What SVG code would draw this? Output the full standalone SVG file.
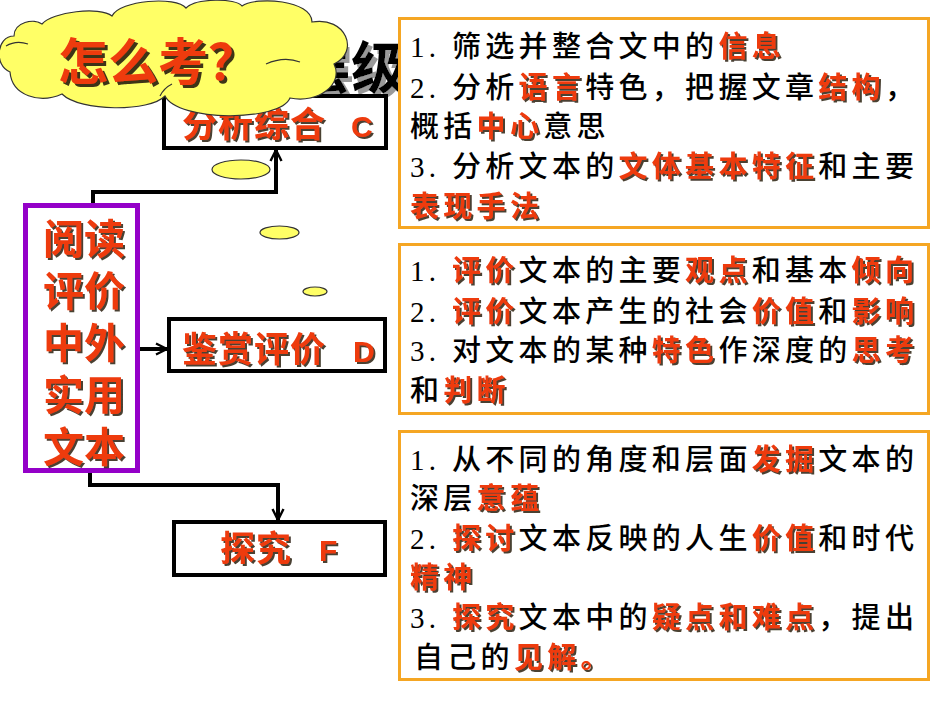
<svg xmlns="http://www.w3.org/2000/svg" width="950" height="713" viewBox="0 0 950 713">
<defs>
<style>
.t{font-family:"Noto Sans CJK SC",sans-serif;font-size:29px;font-weight:500;fill:#000;letter-spacing:4.3px}
.r{font-family:"Noto Sans CJK SC",sans-serif;font-size:29px;font-weight:700;fill:#EE3A10;letter-spacing:4.3px}
.n{font-family:"Liberation Serif",serif;font-weight:400}
.box{fill:#fff;stroke:#000;stroke-width:4}
.panel{fill:#fff;stroke:#F5A623;stroke-width:3}
.lbl{font-family:"Noto Sans CJK SC",sans-serif;font-size:35px;font-weight:700;fill:#EE3A10;letter-spacing:1px}
.lat{font-family:"Liberation Sans",sans-serif;font-size:30px}
.bub{fill:#FFFF66;stroke:#333;stroke-width:1.2}
.conn{fill:none;stroke:#000;stroke-width:4}
</style>
<filter id="sh" x="-5%" y="-20%" width="115%" height="150%"><feDropShadow dx="2" dy="2" stdDeviation="0.5" flood-color="#2a1a10" flood-opacity="0.85"/></filter>
<filter id="sh3" x="-5%" y="-20%" width="115%" height="150%"><feDropShadow dx="3" dy="3" stdDeviation="0.6" flood-color="#2a1a10" flood-opacity="0.9"/></filter>
<filter id="gsh" x="-5%" y="-20%" width="115%" height="150%"><feDropShadow dx="4" dy="4" stdDeviation="0.5" flood-color="#999" flood-opacity="1"/></filter>
<marker id="ah" markerUnits="userSpaceOnUse" markerWidth="14" markerHeight="14" viewBox="0 0 14 14" refX="12" refY="7" orient="auto"><path d="M1,1.5 L12,7 L1,12.5" fill="none" stroke="#000" stroke-width="2.4"/></marker>
</defs>
<rect width="950" height="713" fill="#fff"/>

<g id="title">
<text x="183" y="88" filter="url(#gsh)" style="font-family:'Noto Sans CJK SC',sans-serif;font-size:56px;font-weight:700;fill:#000">能力层级</text>
</g>

<g id="connectors">
<path class="conn" d="M93,205 V192 H276 V150" marker-end="url(#ah)"/>
<path class="conn" d="M140,349 H167" marker-end="url(#ah)"/>
<path class="conn" d="M90,471 V485 H278 V520" marker-end="url(#ah)"/>
</g>

<g id="nodeC">
<rect class="box" x="164" y="96" width="222" height="52"/>
<text class="lbl" y="137" filter="url(#sh)"><tspan x="182">分析综合</tspan><tspan class="lat" x="351">C</tspan></text>
</g>
<g id="nodeD">
<rect class="box" x="169" y="319" width="216" height="52"/>
<text class="lbl" y="362" filter="url(#sh)"><tspan x="182">鉴赏评价</tspan><tspan class="lat" x="353">D</tspan></text>
</g>
<g id="nodeF">
<rect class="box" x="174" y="522" width="211" height="53"/>
<text class="lbl" y="561" filter="url(#sh)"><tspan x="220">探究</tspan><tspan class="lat" x="319">F</tspan></text>
</g>
<g id="nodeMain">
<rect x="25.5" y="205.5" width="112" height="265" fill="#fff" stroke="#9400C8" stroke-width="5"/>
<text text-anchor="middle" filter="url(#sh)" style="font-family:'Noto Sans CJK SC',sans-serif;font-size:41px;font-weight:700;fill:#EE3A10"><tspan x="84" y="254">阅读</tspan><tspan x="84" y="306">评价</tspan><tspan x="84" y="358">中外</tspan><tspan x="84" y="410">实用</tspan><tspan x="84" y="462">文本</tspan></text>
</g>

<g id="cloud">
<path class="bub" d="M10,72 C-6,66 -4,36 14,36 C14,22 34,18 42,24 C52,12 100,6 112,16 C120,0 176,-4 186,8 C196,-2 236,-2 242,6 C256,-4 312,0 312,22 C346,16 360,52 334,64 C344,84 318,104 290,98 C280,122 178,122 165,96 C150,112 80,112 62,94 C40,104 12,96 10,72 Z"/>
<path d="M266,64 Q284,56 300,62 M6,46 Q16,40 28,44 M160,96 Q164,88 172,84" fill="none" stroke="#333" stroke-width="1.2"/>
<text x="58" y="80" filter="url(#sh3)" style="font-family:'Noto Sans CJK SC',sans-serif;font-size:50px;font-weight:700;fill:#EE3A10">怎么考？</text>
<ellipse class="bub" cx="241" cy="169.5" rx="29" ry="9.5"/>
<ellipse class="bub" cx="279.5" cy="232.5" rx="19.5" ry="6.5"/>
<ellipse class="bub" cx="315" cy="291.5" rx="12" ry="4.5"/>
</g>

<g id="panelC">
<rect class="panel" x="399.5" y="18.5" width="529" height="209"/>
<text class="t" y="57"><tspan class="n" x="410">1.</tspan><tspan x="452">筛选并整合文中的</tspan></text>
<text class="r" y="57" filter="url(#sh)"><tspan x="718.4">信息</tspan></text>
<text class="t" y="98"><tspan class="n" x="410">2.</tspan><tspan x="452">分析</tspan><tspan x="585.2">特色，把握文章</tspan><tspan x="884.9">，</tspan></text>
<text class="r" y="98" filter="url(#sh)"><tspan x="518.6">语言</tspan><tspan x="818.3">结构</tspan></text>
<text class="t" y="137"><tspan x="410">概括</tspan><tspan x="543.2">意思</tspan></text>
<text class="r" y="137" filter="url(#sh)"><tspan x="476.6">中心</tspan></text>
<text class="t" y="177"><tspan class="n" x="410">3.</tspan><tspan x="452">分析文本的</tspan><tspan x="818.3">和主要</tspan></text>
<text class="r" y="177" filter="url(#sh)"><tspan x="618.5">文体基本特征</tspan></text>
<text class="r" y="217" filter="url(#sh)"><tspan x="410">表现手法</tspan></text>
</g>

<g id="panelD">
<rect class="panel" x="399.5" y="244.5" width="529" height="169"/>
<text class="t" y="281"><tspan class="n" x="410">1.</tspan><tspan x="518.6">文本的主要</tspan><tspan x="751.7">和基本</tspan></text>
<text class="r" y="281" filter="url(#sh)"><tspan x="452">评价</tspan><tspan x="685.1">观点</tspan><tspan x="851.6">倾向</tspan></text>
<text class="t" y="322"><tspan class="n" x="410">2.</tspan><tspan x="518.6">文本产生的社会</tspan><tspan x="818.3">和</tspan></text>
<text class="r" y="322" filter="url(#sh)"><tspan x="452">评价</tspan><tspan x="751.7">价值</tspan><tspan x="851.6">影响</tspan></text>
<text class="t" y="361"><tspan class="n" x="410">3.</tspan><tspan x="452">对文本的某种</tspan><tspan x="718.4">作深度的</tspan></text>
<text class="r" y="361" filter="url(#sh)"><tspan x="651.8">特色</tspan><tspan x="851.6">思考</tspan></text>
<text class="t" y="401"><tspan x="410">和</tspan></text>
<text class="r" y="401" filter="url(#sh)"><tspan x="443.3">判断</tspan></text>
</g>

<g id="panelF">
<rect class="panel" x="399.5" y="431.5" width="529" height="248"/>
<text class="t" y="470"><tspan class="n" x="410">1.</tspan><tspan x="452">从不同的角度和层面</tspan><tspan x="818.3">文本的</tspan></text>
<text class="r" y="470" filter="url(#sh)"><tspan x="751.7">发掘</tspan></text>
<text class="t" y="509"><tspan x="410">深层</tspan></text>
<text class="r" y="509" filter="url(#sh)"><tspan x="476.6">意蕴</tspan></text>
<text class="t" y="549"><tspan class="n" x="410">2.</tspan><tspan x="518.6">文本反映的人生</tspan><tspan x="818.3">和时代</tspan></text>
<text class="r" y="549" filter="url(#sh)"><tspan x="452">探讨</tspan><tspan x="751.7">价值</tspan></text>
<text class="r" y="588" filter="url(#sh)"><tspan x="410">精神</tspan></text>
<text class="t" y="628"><tspan class="n" x="410">3.</tspan><tspan x="518.6">文本中的</tspan><tspan x="818.3">，提出</tspan></text>
<text class="r" y="628" filter="url(#sh)"><tspan x="452">探究</tspan><tspan x="651.8">疑点和难点</tspan></text>
<text class="t" y="668"><tspan x="414">自己的</tspan></text>
<text class="r" y="668" filter="url(#sh)"><tspan x="513.9">见解。</tspan></text>
</g>
</svg>
